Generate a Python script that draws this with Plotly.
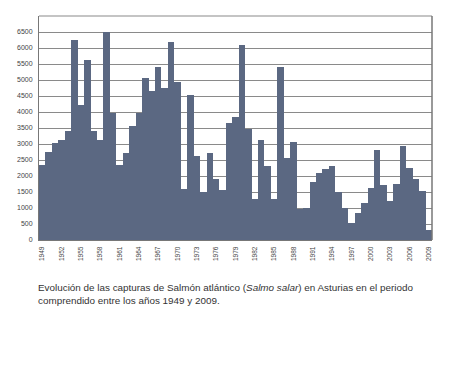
import plotly.graph_objects as go

years = list(range(1949, 2010))
catches = [2330, 2750, 3040, 3120, 3400, 6260, 4230, 5640, 3400, 3110,
           6490, 3970, 2350, 2720, 3550, 3960, 5050, 4660, 5420, 4760,
           6180, 4930, 1590, 4540, 2620, 1500, 2730, 1900, 1570, 3650,
           3840, 6080, 3480, 1280, 3130, 2320, 1290, 5400, 2560, 3050,
           960, 990, 1810, 2090, 2210, 2300, 1490, 990, 540, 840,
           1150, 1620, 2820, 1720, 1230, 1760, 2950, 2260, 1900, 1530,
           310]
year_ticks = [str(y) for y in range(1949, 2010, 3)]
y_ticks = list(range(0, 7000, 500))
caption = ("Evolución de las capturas de Salmón atlántico (<i>Salmo salar</i>) en Asturias en el periodo"
           "<br>comprendido entre los años 1949 y 2009.")

fig = go.Figure(go.Bar(
    x=[str(y) for y in years], y=catches,
    marker=dict(color="#5b6882", line=dict(width=0)),
))

OFF = 8  # page body margin
W, H = 450, 381
L, T = 39 - OFF, 16 - OFF
PR, PB = 432 - OFF, 240 - OFF
R, B = W - PR, H - PB
pw, ph = PR - L, PB - T

fig.update_layout(
    width=W, height=H, autosize=False,
    margin=dict(l=L, r=R, t=T, b=B, pad=0),
    paper_bgcolor="white", plot_bgcolor="white",
    bargap=0, showlegend=False,
    font=dict(family="Liberation Sans, Arial, sans-serif", color="#333333"),
)
fig.update_xaxes(
    type="category", tickmode="array", tickvals=year_ticks, ticktext=year_ticks,
    tickangle=-90, tickfont=dict(size=6.5, color="#444444"),
    showgrid=False, showline=True, linecolor="#777777", linewidth=1,
    ticks="", ticklabelstandoff=3,
)
fig.update_yaxes(
    range=[0, 7000], tickmode="array", tickvals=y_ticks,
    tickfont=dict(size=7, color="#444444"),
    showgrid=True, gridcolor="#8a8a8a", gridwidth=1,
    showline=True, linecolor="#777777", linewidth=1,
    ticks="", ticklabelstandoff=4, zeroline=False,
)
fig.add_shape(type="line", xref="paper", yref="paper", x0=0, x1=1, y0=1, y1=1,
              line=dict(color="#c4c4c4", width=2))
fig.add_shape(type="line", xref="paper", yref="paper", x0=1, x1=1, y0=0, y1=1,
              line=dict(color="#777777", width=1.5))
yfig = 294.2 - OFF
fig.add_annotation(
    text=caption, xref="paper", yref="paper",
    x=(36 - OFF - L) / pw, y=(PB - yfig) / ph, xanchor="left", yanchor="middle",
    align="left", showarrow=False,
    font=dict(size=9.9, color="#333333", family="Liberation Sans, Arial, sans-serif"),
)
fig.write_html("out.html")
